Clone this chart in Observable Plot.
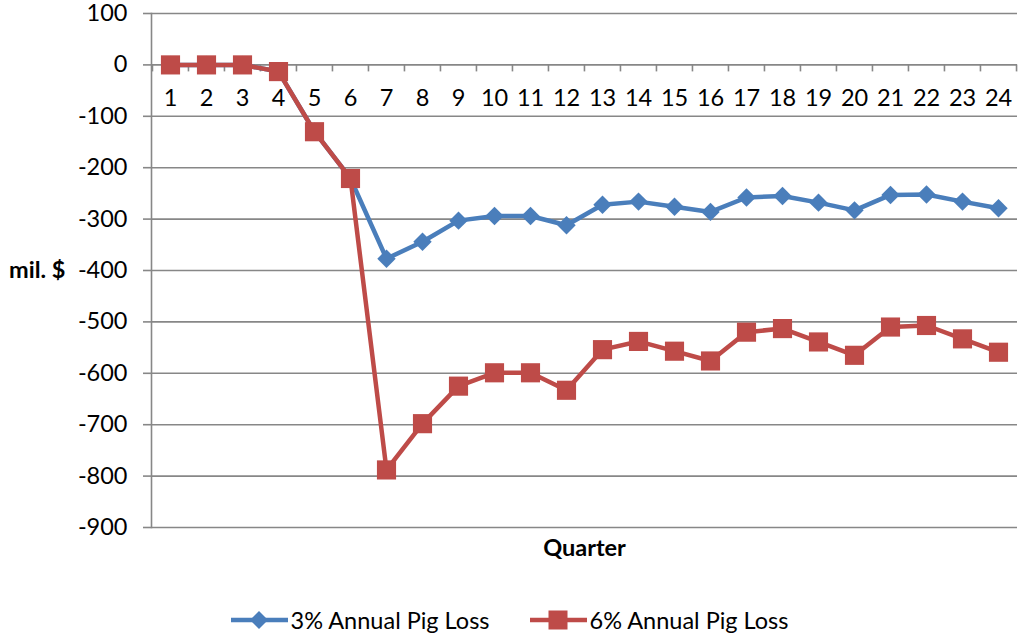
<!DOCTYPE html>
<html>
<head>
<meta charset="utf-8">
<script src="https://cdn.jsdelivr.net/npm/d3@7"></script>
<script src="https://cdn.jsdelivr.net/npm/@observablehq/plot@0.6"></script>
<style>
  html, body { margin: 0; padding: 0; background: #fff; }
  body { width: 1019px; height: 636px; overflow: hidden; font-family: Lato, "Open Sans", sans-serif; }
  #chart svg { display: block; overflow: visible; }
  #legend { display: flex; justify-content: center; align-items: center; height: 60px; font-size: 23.5px; color: #000; }
  #legend .item { display: flex; align-items: center; margin: 0 20px; }
  #legend svg { margin-right: 3px; }
</style>
</head>
<body>
<div id="chart"></div>
<div id="legend"></div>
<script>
const quarters = d3.range(1, 25);
const loss3 = [0, 0, 0, -13, -130, -221, -377, -344, -303, -294, -294, -312, -272, -266, -276, -286, -258, -255, -268, -283, -253, -252, -266, -279];
const loss6 = [0, 0, 0, -13, -130, -221, -788, -698, -625, -599, -599, -633, -554, -538, -557, -576, -520, -513, -539, -565, -510, -507, -533, -559];
const yTicks = d3.range(-900, 101, 100);
const seriesNames = ["3% Annual Pig Loss", "6% Annual Pig Loss"];
const seriesColors = ["#4A7EBB", "#BE4B48"];

const rows3 = quarters.map((q, i) => ({q, v: loss3[i]}));
const rows6 = quarters.map((q, i) => ({q, v: loss6[i]}));

const W = 1019, H = 590, ML = 151, MR = 2, MT = 13, MB = 63;
const halfStep = (W - ML - MR) / quarters.length / 2;
const gray = "#878787";
const font = "Lato, 'Open Sans', sans-serif";
const fs = 23.5;

const chart = Plot.plot({
  width: W, height: H,
  marginLeft: ML, marginRight: MR, marginTop: MT, marginBottom: MB,
  style: {fontFamily: font, fontSize: fs + "px", color: "#000", background: "#fff"},
  x: {type: "point", domain: quarters, padding: 0.5, axis: null},
  y: {domain: [-900, 100], axis: null},
  marks: [
    Plot.gridY(yTicks, {stroke: gray, strokeOpacity: 1, strokeWidth: 1.6}),
    Plot.axisY(yTicks, {tickSize: 8, tickPadding: 16, stroke: gray, strokeWidth: 1.6, fill: "#000", fontSize: fs, tickFormat: d => String(d), label: null}),
    Plot.frame({anchor: "left", stroke: gray, strokeWidth: 1.6}),
    // category boundary ticks on the zero line
    Plot.ruleX(quarters, {x: d => d, y1: () => 0, y2: () => 0, dx: -halfStep, insetBottom: -7, stroke: gray, strokeWidth: 1.6}),
    Plot.ruleX(quarters.slice(-1), {x: d => d, y1: () => 0, y2: () => 0, dx: halfStep, insetBottom: -7, stroke: gray, strokeWidth: 1.6}),
    Plot.text(quarters, {x: d => d, y: () => 0, text: d => String(d), dy: 34, fontSize: fs, fill: "#000"}),
    Plot.line(rows3, {x: "q", y: "v", stroke: seriesColors[0], strokeWidth: 4.5}),
    Plot.dot(rows3, {x: "q", y: "v", symbol: "diamond2", r: 8.3, fill: seriesColors[0], stroke: "none"}),
    Plot.line(rows6, {x: "q", y: "v", stroke: seriesColors[1], strokeWidth: 4.5}),
    Plot.dot(rows6, {x: "q", y: "v", symbol: "square", r: 10.8, fill: seriesColors[1], stroke: "none"}),
    Plot.text(["mil. $"], {frameAnchor: "left", text: d => d, textAnchor: "end", dx: -86, fontWeight: "bold", fontSize: fs, fill: "#000"}),
    Plot.text(["Quarter"], {frameAnchor: "bottom", text: d => d, dy: 28, fontWeight: "bold", fontSize: fs, fill: "#000"})
  ]
});
document.getElementById("chart").appendChild(chart);

const legend = document.getElementById("legend");
seriesNames.forEach((name, i) => {
  const item = document.createElement("div");
  item.className = "item";
  const sym = i === 0
    ? `<path d="M28,2 L37,11 L28,20 L19,11 Z" fill="${seriesColors[i]}"/>`
    : `<rect x="18.5" y="1.5" width="19" height="19" fill="${seriesColors[i]}"/>`;
  item.innerHTML = `<svg width="57" height="22"><line x1="0" x2="57" y1="11" y2="11" stroke="${seriesColors[i]}" stroke-width="4.5"/>${sym}</svg><span>${name}</span>`;
  legend.appendChild(item);
});
</script>
</body>
</html>
